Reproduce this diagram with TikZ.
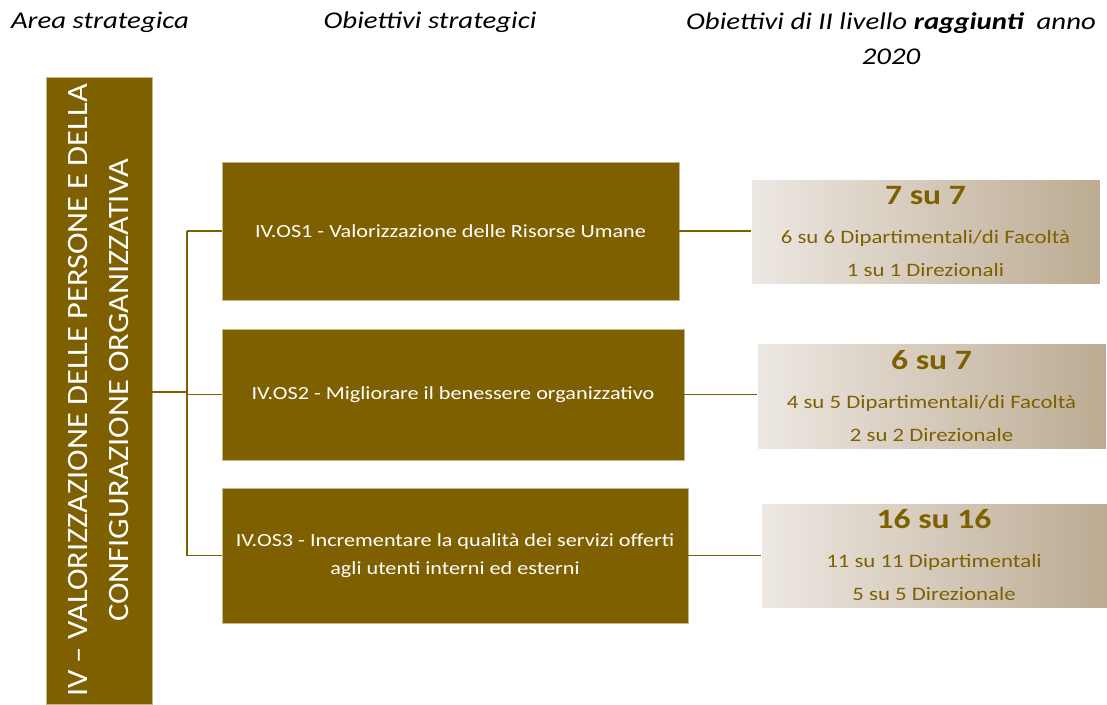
\documentclass[tikz,border=0pt]{standalone}
\usepackage{fontspec}
\setmainfont{Carlito}[FakeStretch=1.2]
\newfontfamily\barfont{Carlito}[FakeStretch=1.1, Ligatures=TeX]
\definecolor{AreaGold}{HTML}{7F6000}
\definecolor{ResultLight}{HTML}{EDE8E3}
\definecolor{ResultDark}{HTML}{BCAB92}

\begin{document}
\begin{tikzpicture}[x=1pt, y=-1pt,
    header/.style={font=\fontsize{24}{35}\selectfont\itshape, align=center},
    goalbox/.style={draw=AreaGold!45, line width=0.8pt, fill=AreaGold, text=white, align=center, font=\fontsize{18.5}{28}\selectfont, inner sep=0pt},
    resultbox/.style={draw=white, line width=0.8pt, left color=ResultLight, right color=ResultDark, text=AreaGold, align=center, font=\fontsize{19}{33}\selectfont, inner sep=0pt},
    link/.style={AreaGold, line width=1.5pt}]
    \useasboundingbox (0,0) rectangle (1107,704);

    % intestazioni
    \node [header] (harea) at (100,22) {Area strategica};
    \node [header] (hobj) at (430,22) {Obiettivi strategici};
    \node [header] (hres) at (891,39) {Obiettivi di II livello \textbf{raggiunti}\ \ anno\\2020};

    % area strategica
    \node [draw=AreaGold!45, line width=0.8pt, fill=AreaGold, text=white, rotate=90, minimum width=627pt, minimum height=106pt, align=center, font=\barfont\fontsize{29.5}{41}\selectfont] (area) at (99,390.5) {IV – VALORIZZAZIONE DELLE PERSONE E DELLA\\CONFIGURAZIONE ORGANIZZATIVA};

    % obiettivi strategici
    \node [goalbox, minimum width=457pt, minimum height=138pt] (os1) at (450.5,231) {IV.OS1 - Valorizzazione delle Risorse Umane};
    \node [goalbox, minimum width=462pt, minimum height=131pt] (os2) at (453,394.5) {IV.OS2 - Migliorare il benessere organizzativo};
    \node [goalbox, minimum width=466pt, minimum height=135pt] (os3) at (455,555.5) {IV.OS3 - Incrementare la qualità dei servizi offerti\\agli utenti interni ed esterni};

    % obiettivi raggiunti
    \node [resultbox, minimum width=349pt, minimum height=105pt] (res1) at (925.5,231.5) {{\fontsize{28}{30}\selectfont\bfseries 7 su 7}\\[6pt]6 su 6 Dipartimentali/di Facoltà\\1 su 1 Direzionali};
    \node [resultbox, minimum width=349pt, minimum height=106pt] (res2) at (931.5,396) {{\fontsize{28}{30}\selectfont\bfseries 6 su 7}\\[6pt]4 su 5 Dipartimentali/di Facoltà\\2 su 2 Direzionale};
    \node [resultbox, minimum width=346pt, minimum height=105pt] (res3) at (934,555.5) {{\fontsize{28}{30}\selectfont\bfseries 16 su 16}\\[6pt]11 su 11 Dipartimentali\\5 su 5 Direzionale};

    % collegamenti
    \coordinate (trunk) at (187,392);
    \draw [link] (area.south |- trunk) -- (trunk);
    \draw [link] (trunk |- os1.west) -- (trunk |- os3.west);
    \draw [link] (trunk |- os1.west) -- (os1.west);
    \draw [link] (trunk |- os2.west) -- (os2.west);
    \draw [link] (trunk |- os3.west) -- (os3.west);
    \draw [link] (os1.east) -- (os1.east -| res1.west);
    \draw [link] (os2.east) -- (os2.east -| res2.west);
    \draw [link] (os3.east) -- (os3.east -| res3.west);
\end{tikzpicture}
\end{document}
